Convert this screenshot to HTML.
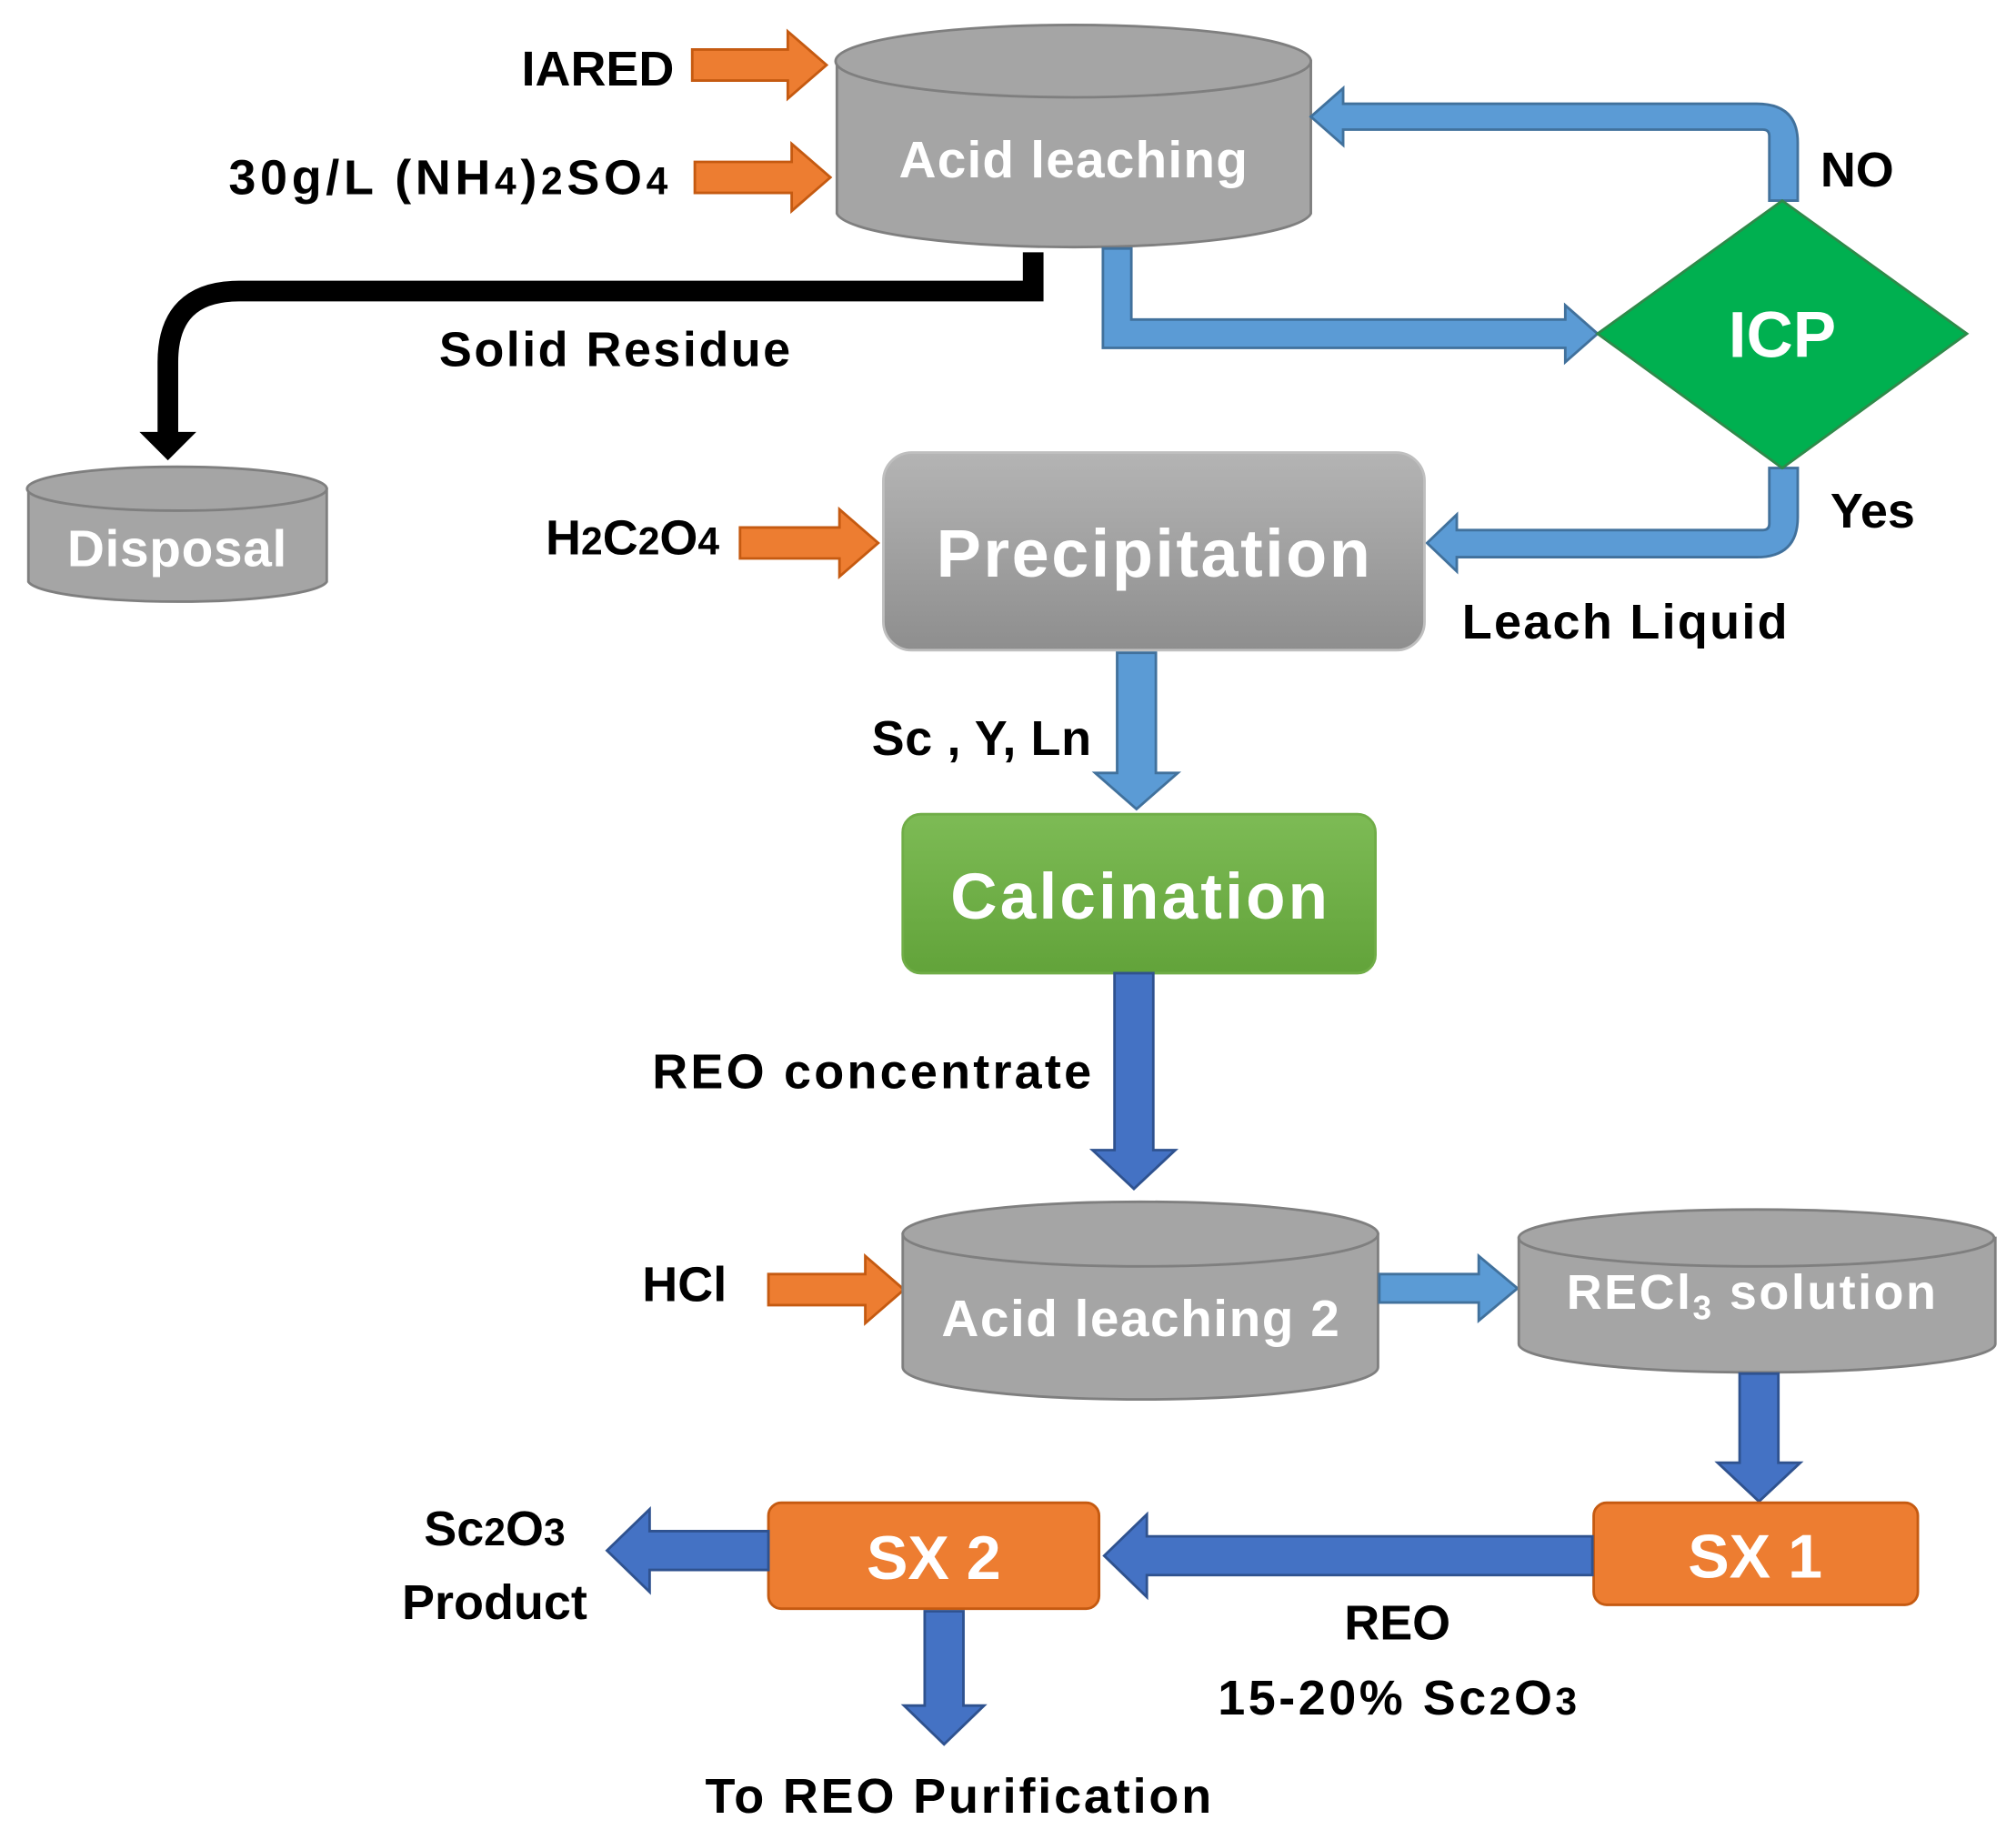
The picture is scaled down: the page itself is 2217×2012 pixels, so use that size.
<!DOCTYPE html>
<html><head><meta charset="utf-8"><style>html,body{margin:0;padding:0;background:#fff}svg{display:block}</style></head>
<body>
<svg width="2217" height="2012" viewBox="0 0 1561 1416" xmlns="http://www.w3.org/2000/svg" font-family="'Liberation Sans', sans-serif" font-weight="bold">
<defs>
<linearGradient id="pg" x1="0" y1="0" x2="0" y2="1"><stop offset="0" stop-color="#b4b4b4"/><stop offset="1" stop-color="#8e8e8e"/></linearGradient>
<linearGradient id="cg" x1="0" y1="0" x2="0" y2="1"><stop offset="0" stop-color="#7dbb55"/><stop offset="1" stop-color="#62a33a"/></linearGradient>
</defs>
<!-- Acid leaching cylinder -->
<path d="M648 47 V165 A184 28 0 0 0 1015 165 V47 Z" fill="#a5a5a5" stroke="#7f7f7f" stroke-width="2"/>
<ellipse cx="831" cy="47" rx="184" ry="28" fill="#a5a5a5" stroke="#7f7f7f" stroke-width="2"/>
<text x="831" y="137" font-size="40" fill="#fff" text-anchor="middle" textLength="270">Acid leaching</text>
<!-- orange input arrows -->
<g fill="#ed7d31" stroke="#c55a11" stroke-width="2">
<path d="M536 38 H610 V24 L640 50 L610 76 V62 H536 Z"/>
<path d="M538 125 H613 V111 L643 137 L613 163 V149 H538 Z"/>
<path d="M573 408 H650 V394 L680 420 L650 446 V432 H573 Z"/>
<path d="M595 986 H670 V972 L700 998 L670 1024 V1010 H595 Z"/>
</g>
<text x="522" y="66" font-size="38" text-anchor="end">IARED</text>
<text x="517" y="150" font-size="38" text-anchor="end" textLength="340">30g/L (NH<tspan font-size="30">4</tspan>)<tspan font-size="30">2</tspan>SO<tspan font-size="30">4</tspan></text>
<!-- black arrow -->
<path d="M800 195 V225 H185 Q130 225 130 280 V338" fill="none" stroke="#000" stroke-width="16"/>
<path d="M108 334 H152 L130 356 Z" fill="#000"/>
<text x="476" y="283" font-size="38" text-anchor="middle" textLength="272">Solid Residue</text>
<!-- Disposal -->
<path d="M22 378 V450 A116 17 0 0 0 253 450 V378 Z" fill="#a5a5a5" stroke="#7f7f7f" stroke-width="2"/>
<ellipse cx="137" cy="378" rx="116" ry="17" fill="#a5a5a5" stroke="#7f7f7f" stroke-width="2"/>
<text x="137" y="438" font-size="40" fill="#fff" text-anchor="middle" textLength="170">Disposal</text>
<!-- blue arrow to ICP -->
<path d="M854 192 H876 V247 H1212 V236 L1237 258 L1212 280 V269 H854 Z" fill="#5b9bd5" stroke="#41719c" stroke-width="2"/>
<!-- NO arrow -->
<path d="M1370 155 V105 Q1370 100 1365 100 H1040 V112 L1015 90 L1040 68 V80 H1360 Q1392 80 1392 110 V155 Z" fill="#5b9bd5" stroke="#41719c" stroke-width="2"/>
<text x="1438" y="144" font-size="38" text-anchor="middle">NO</text>
<!-- Yes arrow -->
<path d="M1370 362 V405 Q1370 410 1365 410 H1128 V398 L1105 420 L1128 442 V431 H1360 Q1392 431 1392 400 V362 Z" fill="#5b9bd5" stroke="#41719c" stroke-width="2"/>
<text x="1450" y="408" font-size="38" text-anchor="middle">Yes</text>
<text x="1258" y="494" font-size="38" text-anchor="middle" textLength="252">Leach Liquid</text>
<!-- ICP -->
<path d="M1380 155 L1523 258 L1380 362 L1237 258 Z" fill="#00b050" stroke="#2f8a4a" stroke-width="2"/>
<text x="1380" y="276" font-size="50" fill="#fff" text-anchor="middle">ICP</text>
<!-- Precipitation -->
<rect x="684" y="350" width="419" height="153" rx="22" fill="url(#pg)" stroke="#bfbfbf" stroke-width="2"/>
<text x="893" y="446" font-size="52" fill="#fff" text-anchor="middle" textLength="336">Precipitation</text>
<text x="557" y="429" font-size="38" text-anchor="end">H<tspan font-size="30">2</tspan>C<tspan font-size="30">2</tspan>O<tspan font-size="30">4</tspan></text>
<!-- down arrow Sc Y Ln -->
<path d="M865 505 H895 V598 H912 L880 626 L848 598 H865 Z" fill="#5b9bd5" stroke="#41719c" stroke-width="2"/>
<text x="845" y="584" font-size="38" text-anchor="end" textLength="170">Sc , Y, Ln</text>
<!-- Calcination -->
<rect x="699" y="630" width="366" height="123" rx="14" fill="url(#cg)" stroke="#70ad47" stroke-width="2"/>
<text x="882" y="711" font-size="50" fill="#fff" text-anchor="middle" textLength="292">Calcination</text>
<!-- REO concentrate arrow -->
<path d="M863 753 H893 V890 H910 L878 920 L846 890 H863 Z" fill="#4472c4" stroke="#2f528f" stroke-width="2"/>
<text x="845" y="842" font-size="38" text-anchor="end" textLength="340">REO concentrate</text>
<!-- Acid leaching 2 -->
<path d="M699 955 V1058 A184 25 0 0 0 1067 1058 V955 Z" fill="#a5a5a5" stroke="#7f7f7f" stroke-width="2"/>
<ellipse cx="883" cy="955" rx="184" ry="25" fill="#a5a5a5" stroke="#7f7f7f" stroke-width="2"/>
<text x="883" y="1034" font-size="40" fill="#fff" text-anchor="middle" textLength="308">Acid leaching 2</text>
<text x="530" y="1007" font-size="38" text-anchor="middle">HCl</text>
<!-- arrow to RECl3 -->
<path d="M1068 986 H1145 V972 L1175 997 L1145 1022 V1008 H1068 Z" fill="#5b9bd5" stroke="#41719c" stroke-width="2"/>
<!-- RECl3 -->
<path d="M1176 958 V1040 A184 22 0 0 0 1545 1040 V958 Z" fill="#a5a5a5" stroke="#7f7f7f" stroke-width="2"/>
<ellipse cx="1360" cy="958" rx="184" ry="22" fill="#a5a5a5" stroke="#7f7f7f" stroke-width="2"/>
<text x="1356" y="1013" font-size="38" fill="#fff" text-anchor="middle" textLength="286">RECl<tspan font-size="26" dy="8">3</tspan><tspan dy="-8"> solution</tspan></text>
<!-- down to SX1 -->
<path d="M1347 1063 H1377 V1132 H1394 L1362 1162 L1330 1132 H1347 Z" fill="#4472c4" stroke="#2f528f" stroke-width="2"/>
<!-- SX1 -->
<rect x="1234" y="1163" width="251" height="79" rx="10" fill="#ed7d31" stroke="#c55a11" stroke-width="2"/>
<text x="1359" y="1221" font-size="48" fill="#fff" text-anchor="middle">SX 1</text>
<!-- left arrow SX1->SX2 -->
<path d="M1233 1189 H888 V1172 L855 1204 L888 1236 V1219 H1233 Z" fill="#4472c4" stroke="#2f528f" stroke-width="2"/>
<text x="1082" y="1269" font-size="38" text-anchor="middle">REO</text>
<text x="1082" y="1327" font-size="38" text-anchor="middle" textLength="278">15-20% Sc<tspan font-size="30">2</tspan>O<tspan font-size="30">3</tspan></text>
<!-- SX2 -->
<rect x="595" y="1163" width="256" height="82" rx="10" fill="#ed7d31" stroke="#c55a11" stroke-width="2"/>
<text x="723" y="1222" font-size="48" fill="#fff" text-anchor="middle">SX 2</text>
<!-- left out arrow -->
<path d="M595 1185 H503 V1168 L470 1200 L503 1232 V1215 H595 Z" fill="#4472c4" stroke="#2f528f" stroke-width="2"/>
<text x="383" y="1196" font-size="38" text-anchor="middle">Sc<tspan font-size="30">2</tspan>O<tspan font-size="30">3</tspan></text>
<text x="383" y="1253" font-size="38" text-anchor="middle">Product</text>
<!-- down out arrow -->
<path d="M716 1247 H746 V1320 H762 L731 1350 L700 1320 H716 Z" fill="#4472c4" stroke="#2f528f" stroke-width="2"/>
<text x="742" y="1403" font-size="38" text-anchor="middle" textLength="392">To REO Purification</text>
</svg>
</body></html>
